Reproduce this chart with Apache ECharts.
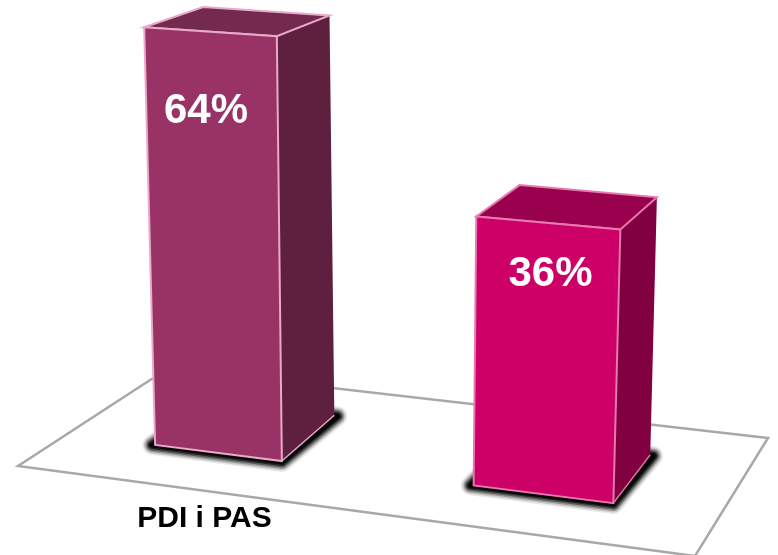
<!DOCTYPE html>
<html>
<head>
<meta charset="utf-8">
<style>
  html, body { margin: 0; padding: 0; background: #fff; }
  #main { width: 778px; height: 555px; }
</style>
<script src="https://cdn.jsdelivr.net/npm/echarts@6/dist/echarts.min.js"></script>
</head>
<body>
<div id="main"></div>
<script>
// 数据
var categories = ['PDI i PAS', ''];
var values = [64, 36];

// colours of the two columns
var frontColors = ['#993366', '#cc0066'];
var topColors = ['#74294f', '#99004d'];
var sideColors = ['#5f1f3f', '#800040'];
var edgeColors = ['#e9a9c9', '#e878b0'];

// hidden value axis: the floor sits a bit under zero
var yMin = -9.2;
var yMax = 69;

// pseudo 3d settings, worked out from the picture
var tilt = 0.127;         // slope of the floor
var growth = 0.000132;    // columns get taller to the right
var widen = 0.000315;     // and wider
var fan = 0.000113;       // verticals lean away from vanishX
var vanishX = 387;
var labelNudge = [-6, 3]; // the labels are not quite centred on the front

// stacked strokes give the soft shadow round the foot of a column
var shadowWidths = [20, 17, 14, 11, 8, 5];
var shadowAlphas = [0.08, 0.14, 0.25, 0.4, 0.6, 0.85];

function backOf(p) {
    return [p[0] + 65.7 - 0.047 * p[0], p[1] - 18.7 - 0.0588 * p[1]];
}

function renderColumn(params, api) {
    var i = api.value(0);
    var v = api.value(1);
    var start = api.coord([0, yMin])[0];
    var base = api.coord([i, yMin]);
    var top = api.coord([i, v]);
    var h = base[1] - top[1];
    var w = api.size([1, 0])[0] * 0.39 * (1 + widen * (base[0] - start));

    function foot(side) {
        var x = base[0] + side * w / 2;
        return [x, base[1] + tilt * (x - start)];
    }
    function head(side) {
        var f = foot(side);
        var fh = h * (1 + growth * (f[0] - start));
        return [f[0] + fan * (f[0] - vanishX) * fh, f[1] - fh];
    }

    var fl = foot(-1), fr = foot(1), tl = head(-1), tr = head(1);
    var bfr = backOf(fr), bfl = backOf(fl), btl = backOf(tl), btr = backOf(tr);
    var edge = edgeColors[i];

    // label sits about a fifth of the way down the front
    var labelX = (tl[0] + tr[0]) / 2 + (fl[0] + fr[0] - tl[0] - tr[0]) / 2 * 0.18 + labelNudge[i];
    var labelY = (tl[1] + tr[1]) / 2 + (fl[1] + fr[1] - tl[1] - tr[1]) / 2 * 0.19;

    var children = shadowWidths.map(function (sw, n) {
        return {
            type: 'polygon',
            shape: { points: [[fl[0] - 3, fl[1]], [fr[0], fr[1] + 1], [bfr[0] + 3, bfr[1] + 1], [bfl[0], bfl[1]]] },
            style: {
                fill: '#111',
                stroke: 'rgba(0,0,0,' + shadowAlphas[n] + ')',
                lineWidth: sw,
                lineJoin: 'round'
            }
        };
    });

    return {
        type: 'group',
        children: children.concat([
            {
                type: 'polygon',
                shape: { points: [tr, btr, bfr, fr] },
                style: { fill: sideColors[i] }
            },
            {
                type: 'polygon',
                shape: { points: [tl, btl, btr, tr] },
                style: { fill: topColors[i], stroke: edge, lineWidth: 2 }
            },
            {
                type: 'polyline',
                shape: { points: [fr, bfr] },
                style: { fill: 'none', stroke: edge, lineWidth: 1.5 }
            },
            {
                type: 'polygon',
                shape: { points: [tl, tr, fr, fl] },
                style: { fill: frontColors[i], stroke: edge, lineWidth: 2 }
            },
            {
                type: 'text',
                style: {
                    text: v + '%',
                    x: labelX,
                    y: labelY,
                    align: 'center',
                    verticalAlign: 'middle',
                    fill: '#fff',
                    font: 'bold 42px "Liberation Sans", Arial, sans-serif'
                }
            }
        ])
    };
}

var myChart = echarts.init(document.getElementById('main'));

var option = {
    animation: false,
    backgroundColor: '#fff',
    grid: { left: 56, width: 650, top: 3, bottom: 102 },
    xAxis: {
        type: 'category',
        data: categories,
        axisLine: { show: false },
        axisTick: { show: false },
        axisLabel: {
            interval: 0,
            margin: 51,
            padding: [0, 28, 0, 0],
            color: '#000',
            fontWeight: 'bold',
            fontSize: 30,
            fontFamily: '"Liberation Sans", Arial, sans-serif'
        }
    },
    yAxis: {
        type: 'value',
        min: yMin,
        max: yMax,
        show: false
    },
    graphic: [
        {
            // floor of the chart
            type: 'polygon',
            z: -1,
            shape: { points: [[18, 466], [167, 369], [768, 438], [695, 556]] },
            style: { fill: '#fff', stroke: '#a8a8a8', lineWidth: 2.5 }
        }
    ],
    series: [
        {
            type: 'custom',
            renderItem: renderColumn,
            encode: { x: 0, y: 1 },
            clip: false,
            data: values.map(function (v, i) { return [i, v]; })
        }
    ]
};

myChart.setOption(option);
</script>
</body>
</html>
